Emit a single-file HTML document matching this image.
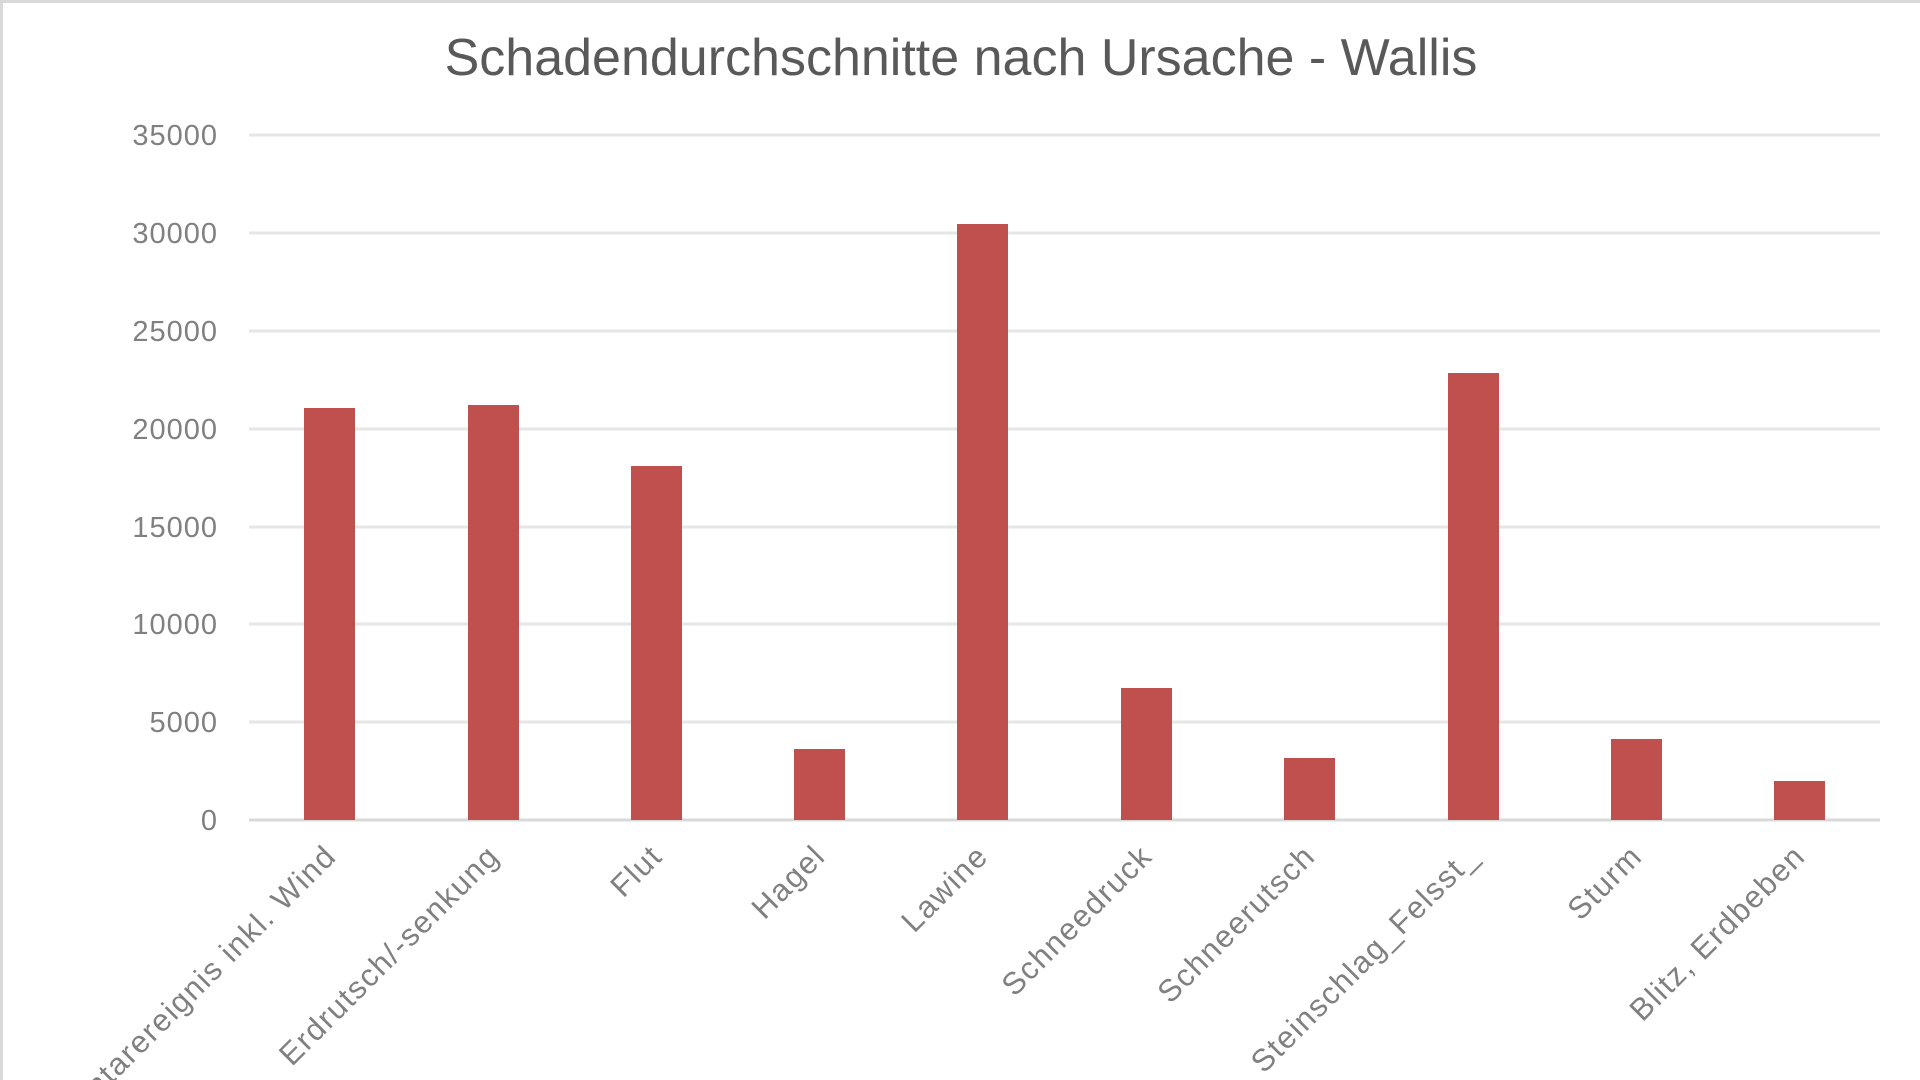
<!DOCTYPE html>
<html><head><meta charset="utf-8"><style>
html,body{margin:0;padding:0;background:#fff;width:1920px;height:1080px;overflow:hidden;}
svg{display:block;}
</style></head><body>
<svg width="1920" height="1080" viewBox="0 0 1920 1080" xmlns="http://www.w3.org/2000/svg" font-family="Liberation Sans, sans-serif" overflow="hidden">
<rect x="0" y="0" width="1920" height="1080" fill="#fff"/>
<rect x="0" y="0" width="1920" height="3" fill="#d9d9d9"/>
<rect x="0" y="0" width="3" height="1080" fill="#d9d9d9"/>
<text x="961" y="75" text-anchor="middle" font-size="52" fill="#595959">Schadendurchschnitte nach Ursache - Wallis</text>
<g stroke="#e6e6e6" stroke-width="3">
<line x1="249" x2="1880" y1="135" y2="135"/>
<line x1="249" x2="1880" y1="233" y2="233"/>
<line x1="249" x2="1880" y1="331" y2="331"/>
<line x1="249" x2="1880" y1="429" y2="429"/>
<line x1="249" x2="1880" y1="527" y2="527"/>
<line x1="249" x2="1880" y1="624" y2="624"/>
<line x1="249" x2="1880" y1="722" y2="722"/>
<line x1="249" x2="1880" y1="820" y2="820" stroke="#d9d9d9"/>
</g>
<g font-size="29" fill="#808080" text-anchor="end" letter-spacing="1">
<text x="218" y="145">35000</text>
<text x="218" y="243">30000</text>
<text x="218" y="341">25000</text>
<text x="218" y="439">20000</text>
<text x="218" y="537">15000</text>
<text x="218" y="634">10000</text>
<text x="218" y="732">5000</text>
<text x="218" y="830">0</text>
</g>
<g fill="#c0504d">
<rect x="304" y="408" width="51" height="412"/>
<rect x="468" y="405" width="51" height="415"/>
<rect x="631" y="466" width="51" height="354"/>
<rect x="794" y="749" width="51" height="71"/>
<rect x="957" y="224" width="51" height="596"/>
<rect x="1121" y="688" width="51" height="132"/>
<rect x="1284" y="758" width="51" height="62"/>
<rect x="1448" y="373" width="51" height="447"/>
<rect x="1611" y="739" width="51" height="81"/>
<rect x="1774" y="781" width="51" height="39"/>
</g>
<g font-size="31" fill="#808080" text-anchor="end" letter-spacing="1.5">
<text transform="translate(338,858) rotate(-45)">Elementarereignis inkl. Wind</text>
<text transform="translate(501,858) rotate(-45)">Erdrutsch/-senkung</text>
<text transform="translate(664,858) rotate(-45)">Flut</text>
<text transform="translate(827,858) rotate(-45)">Hagel</text>
<text transform="translate(990,858) rotate(-45)">Lawine</text>
<text transform="translate(1154,858) rotate(-45)">Schneedruck</text>
<text transform="translate(1317,858) rotate(-45)">Schneerutsch</text>
<text transform="translate(1480,858) rotate(-45)">Steinschlag_Felsst_</text>
<text transform="translate(1644,858) rotate(-45)">Sturm</text>
<text transform="translate(1807,858) rotate(-45)">Blitz, Erdbeben</text>
</g>
</svg>
</body></html>
